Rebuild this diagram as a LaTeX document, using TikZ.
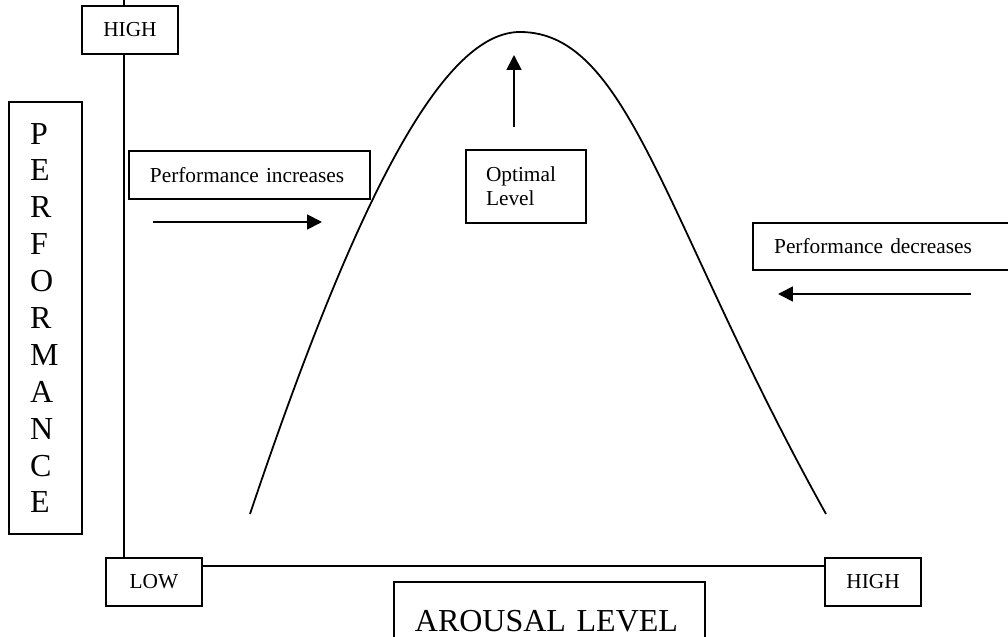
\documentclass[tikz,border=0pt]{standalone}
\usepackage{fontspec}
\setmainfont{Liberation Serif}
\usepackage{tikz}
\usetikzlibrary{arrows.meta}
\usetikzlibrary{calc}

\tikzset{
    box/.style={draw, line width=1pt, fill=white, rectangle, inner sep=0pt, minimum height=27pt, font=\fontsize{12}{13.5}\selectfont},
    bigbox/.style={box, font=\fontsize{18}{20.75}\selectfont},
    pointer/.style={line width=1pt, -{Triangle[length=8.4pt,width=8.4pt]}},
    axis/.style={line width=1pt}
}

\begin{document}
\begin{tikzpicture}[x=0.5625pt, y=-0.5625pt]
                \useasboundingbox (0,0) rectangle (1008,637);
                \clip (0,0) rectangle (1008,637);
                \node[box, minimum width=54pt] (highy) at (130,30) {HIGH};
                \node[bigbox, minimum height=243pt, text width=17.4pt, inner xsep=11.8pt, align=left] (perf) at (45.5,318) {P\\E\\R\\F\\O\\R\\M\\A\\N\\C\\E};
                \node[box, text width=112pt, inner xsep=11.8pt, align=left] (incbox) at (249.5,175) {Performance increases};
                \node[box, minimum height=41pt, text width=45pt, inner xsep=11.25pt, align=left] (optbox) at (526,186.5) {Optimal\\Level};
                \node[box, minimum height=26.4pt, text width=126.4pt, inner xsep=11.8pt, align=left] (decbox) at (886.5,246.5) {Performance decreases};
                \node[box, minimum width=54pt] (lowbox) at (154,582) {LOW};
                \node[box, minimum width=54pt] (highx) at (873,582) {HIGH};
                \node[bigbox, minimum height=44.4pt, text width=151.4pt, inner xsep=11.8pt, align=left] (arobox) at (549.5,621.5) {AROUSAL LEVEL};
                \coordinate (vx) at (124,0);
                \coordinate (hy) at (0,566);
                \draw[axis] (vx) -- (highy.north -| vx);
                \draw[axis] (highy.south -| vx) -- (lowbox.north -| vx);
                \draw[axis] (lowbox.east |- hy) -- (highx.west |- hy);
                \draw[line width=1pt] (250,514) .. controls (367,165.6) and (450,32) .. (520,32)
                    .. controls (630,32) and (664,223) .. (826,514);
                \coordinate (incstart) at (153,222);
                \coordinate (incend) at (322,222);
                \coordinate (optstart) at (514,127);
                \coordinate (optend) at (514,55);
                \coordinate (decstart) at (971,294);
                \coordinate (decend) at (778,294);
                \draw[pointer] (incstart) -- (incend);
                \draw[pointer] (optstart) -- (optend);
                \draw[pointer] (decstart) -- (decend);
            \end{tikzpicture}
\end{document}
